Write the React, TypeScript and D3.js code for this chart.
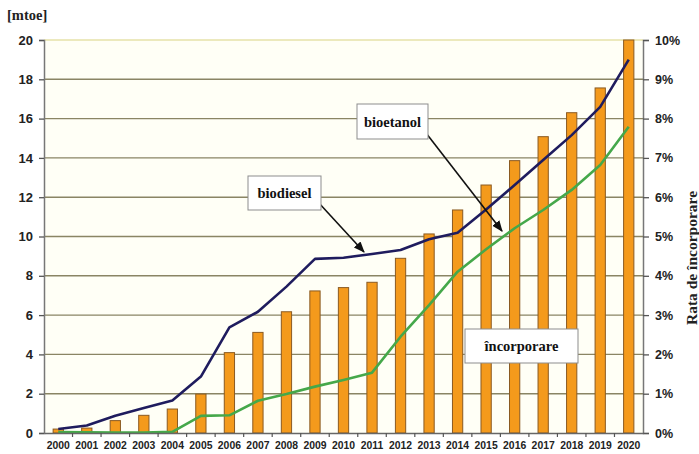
import { useEffect, useRef } from 'react';
import * as d3 from 'd3';

// Years on the x axis
const years = [
  '2000', '2001', '2002', '2003', '2004', '2005', '2006', '2007', '2008', '2009', '2010',
  '2011', '2012', '2013', '2014', '2015', '2016', '2017', '2018', '2019', '2020',
];

// Bars: total incorporation (mtoe)
const incorporare = [
  0.2, 0.25, 0.63, 0.9, 1.22, 1.98, 4.09, 5.12, 6.17, 7.23, 7.4,
  7.67, 8.89, 10.13, 11.35, 12.62, 13.86, 15.08, 16.3, 17.56, 20,
];

// Lines
const biodiesel = [
  0.2, 0.38, 0.88, 1.27, 1.65, 2.87, 5.38, 6.17, 7.45, 8.86, 8.92,
  9.11, 9.31, 9.86, 10.19, 11.37, 12.62, 13.89, 15.16, 16.6, 19.0,
];
const bioetanol = [
  0.05, 0.03, 0.02, 0.02, 0.06, 0.87, 0.9, 1.64, 1.98, 2.36, 2.7,
  3.07, 4.9, 6.51, 8.21, 9.35, 10.42, 11.35, 12.37, 13.64, 15.59,
];

const leftTicks = [0, 2, 4, 6, 8, 10, 12, 14, 16, 18, 20];
const rightTicks = [0, 0.01, 0.02, 0.03, 0.04, 0.05, 0.06, 0.07, 0.08, 0.09, 0.1];

const W = 699;
const H = 454;

export default function App() {
  const svgRef = useRef<SVGSVGElement>(null);

  useEffect(() => {
    if (!svgRef.current) return;
    const svg = d3.select(svgRef.current);
    svg.selectAll('*').remove();

    const left = 44, right = 643, top = 40, bottom = 433;
    const sans = 'Liberation Sans, Arial, sans-serif';
    const serif = 'Liberation Serif, Times New Roman, serif';

    const x = d3.scaleBand<string>().domain(years).range([left, right]).padding(0);
    const y = d3.scaleLinear().domain([0, 20]).range([bottom, top]);
    const yR = d3.scaleLinear().domain([0, 0.1]).range([bottom, top]);
    const cx = (i: number) => (x(years[i]) || 0) + x.bandwidth() / 2;

    svg.append('rect').attr('width', W).attr('height', H).attr('fill', '#fff');

    // plot background
    svg.append('rect')
      .attr('x', left).attr('y', top)
      .attr('width', right - left).attr('height', bottom - top)
      .attr('fill', '#fffff6');

    // gridlines
    svg.append('g').selectAll('line')
      .data(leftTicks.filter(d => d > 0))
      .join('line')
      .attr('x1', left).attr('x2', right)
      .attr('y1', d => y(d)).attr('y2', d => y(d))
      .attr('stroke', d => (d === 20 ? '#e6e2a8' : '#8a8564'))
      .attr('stroke-width', 1.4);

    // bars
    const bw = x.bandwidth() * 0.36;
    svg.append('g').selectAll('rect')
      .data(incorporare)
      .join('rect')
      .attr('x', (_, i) => cx(i) - bw / 2)
      .attr('y', d => y(d))
      .attr('width', bw)
      .attr('height', d => bottom - y(d))
      .attr('fill', '#f49a1c')
      .attr('stroke', '#8a5a22')
      .attr('stroke-width', 1);

    // lines
    const line = d3.line<number>()
      .x((_, i) => cx(i))
      .y(d => y(d));

    svg.append('path')
      .datum(bioetanol)
      .attr('d', line)
      .attr('fill', 'none')
      .attr('stroke', '#45a84a')
      .attr('stroke-width', 2.6)
      .attr('stroke-linejoin', 'round');

    svg.append('path')
      .datum(biodiesel)
      .attr('d', line)
      .attr('fill', 'none')
      .attr('stroke', '#1f1c5e')
      .attr('stroke-width', 2.6)
      .attr('stroke-linejoin', 'round');

    // left axis
    const gL = svg.append('g').attr('transform', `translate(${left},0)`)
      .call(d3.axisLeft(y).tickValues(leftTicks).tickSize(5).tickPadding(6));
    gL.select('.domain').attr('stroke', '#777').attr('stroke-width', 1.5);
    gL.selectAll('.tick line').attr('stroke', '#555').attr('stroke-width', 1.3);
    gL.selectAll('text')
      .attr('font-family', sans).attr('font-size', 13).attr('font-weight', 'bold')
      .attr('fill', '#222');

    // right axis
    const gR = svg.append('g').attr('transform', `translate(${right},0)`)
      .call(d3.axisRight(yR).tickValues(rightTicks).tickSize(6).tickPadding(6)
        .tickFormat(d3.format('.0%')));
    gR.select('.domain').attr('stroke', '#777').attr('stroke-width', 1.5);
    gR.selectAll('.tick line').attr('stroke', '#555').attr('stroke-width', 1.3);
    gR.selectAll('text')
      .attr('font-family', sans).attr('font-size', 12.5).attr('font-weight', 'bold')
      .attr('fill', '#222');

    // bottom axis
    const gB = svg.append('g').attr('transform', `translate(0,${bottom})`)
      .call(d3.axisBottom(x).tickSize(0).tickPadding(9));
    gB.select('.domain').attr('stroke', '#666').attr('stroke-width', 1.5);
    gB.selectAll('text')
      .attr('font-family', sans).attr('font-size', 10.4).attr('font-weight', 'bold')
      .attr('fill', '#222');
    gB.selectAll('line.sep')
      .data(years.slice(1))
      .join('line')
      .attr('class', 'sep')
      .attr('x1', d => x(d) || 0).attr('x2', d => x(d) || 0)
      .attr('y1', 0).attr('y2', 4)
      .attr('stroke', '#555').attr('stroke-width', 1.2);

    // axis titles
    svg.append('text')
      .attr('x', 7).attr('y', 20)
      .attr('font-family', serif).attr('font-size', 14.5).attr('font-weight', 'bold')
      .attr('fill', '#222')
      .text('[mtoe]');

    svg.append('text')
      .attr('transform', `translate(697,258) rotate(-90)`)
      .attr('text-anchor', 'middle')
      .attr('font-family', serif).attr('font-size', 15.5).attr('font-weight', 'bold')
      .attr('fill', '#222')
      .text('Rata de încorporare');

    // arrow marker
    svg.append('defs').append('marker')
      .attr('id', 'arr')
      .attr('viewBox', '0 0 10 10')
      .attr('refX', 9).attr('refY', 5)
      .attr('markerWidth', 7).attr('markerHeight', 7)
      .attr('orient', 'auto')
      .append('path')
      .attr('d', 'M0,1 L10,5 L0,9 Z')
      .attr('fill', '#111');

    const callout = (bx: number, by: number, w: number, h: number, label: string,
      from?: [number, number], to?: [number, number]) => {
      if (from && to) {
        svg.append('line')
          .attr('x1', from[0]).attr('y1', from[1])
          .attr('x2', to[0]).attr('y2', to[1])
          .attr('stroke', '#111').attr('stroke-width', 1.6)
          .attr('marker-end', 'url(#arr)');
      }
      svg.append('rect')
        .attr('x', bx).attr('y', by).attr('width', w).attr('height', h)
        .attr('fill', '#fff').attr('stroke', '#8d8d8d').attr('stroke-width', 1);
      svg.append('text')
        .attr('x', bx + w / 2).attr('y', by + h / 2 + 5)
        .attr('text-anchor', 'middle')
        .attr('font-family', serif).attr('font-size', 14.5).attr('font-weight', 'bold')
        .attr('fill', '#111')
        .text(label);
    };

    callout(248, 176, 73, 34, 'biodiesel', [318, 202], [364, 252]);
    callout(357, 104, 71, 35, 'bioetanol', [426, 133], [502, 231]);
    callout(465, 329, 113, 34, 'încorporare');
  }, []);

  return (
    <svg
      ref={svgRef}
      width={W}
      height={H}
      style={{ position: 'absolute', left: 0, top: 0, display: 'block' }}
    />
  );
}
